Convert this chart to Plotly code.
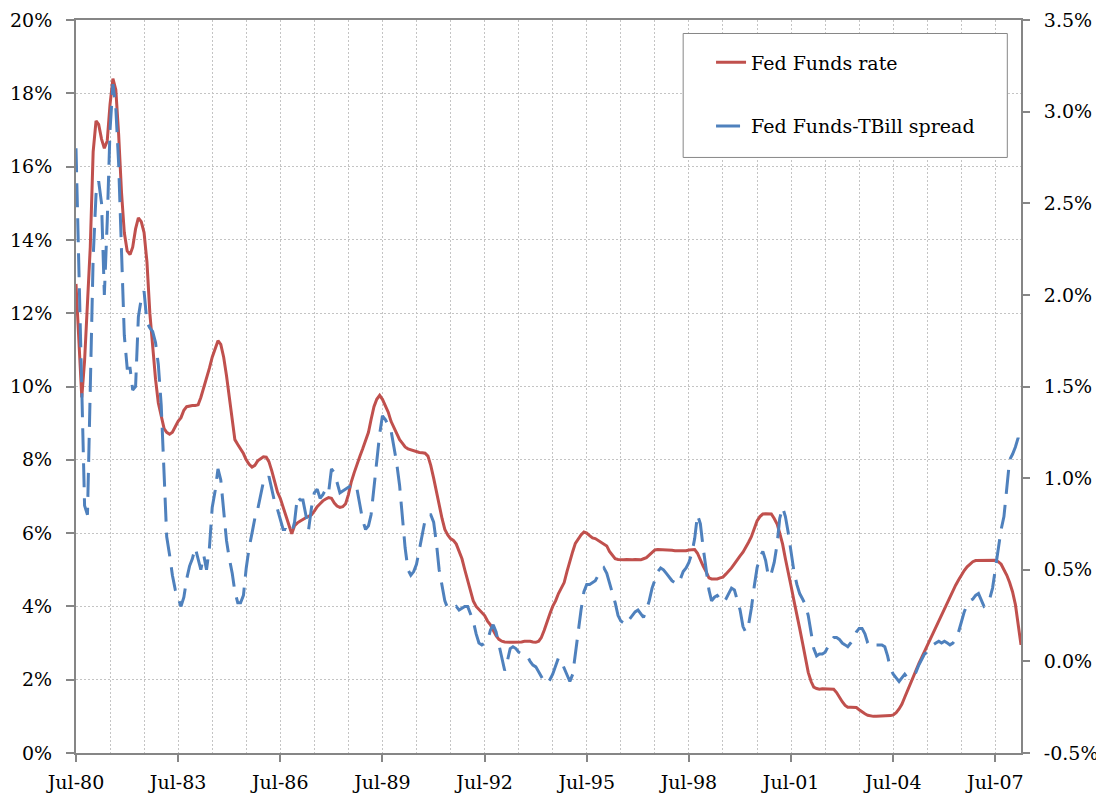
import pandas as pd
import plotly.graph_objects as go

# Monthly data, July 1980 - April 2008 (one row per Jul-Jun year)
fed_funds = [
    12.8, 11.3, 9.7, 10.7, 12.3, 13.8, 16.4, 17.25, 17.15, 16.75, 16.5, 16.7,      # Jul-80
    17.7, 18.4, 18.1, 16.9, 15.3, 14.2, 13.7, 13.6, 13.8, 14.3, 14.6, 14.5,        # Jul-81
    14.2, 13.4, 12.0, 11.1, 10.2, 9.55, 9.2, 8.85, 8.75, 8.7, 8.75, 8.9,           # Jul-82
    9.05, 9.15, 9.35, 9.45, 9.47, 9.48, 9.48, 9.5, 9.7, 9.95, 10.2, 10.5,          # Jul-83
    10.8, 11.0, 11.25, 11.15, 10.8, 10.3, 9.7, 9.0, 8.55, 8.42, 8.3, 8.17,         # Jul-84
    8.0, 7.88, 7.8, 7.85, 7.97, 8.03, 8.08, 8.07, 7.95, 7.7, 7.4, 7.12,            # Jul-85
    6.95, 6.7, 6.45, 6.2, 5.98, 6.2, 6.28, 6.33, 6.38, 6.42, 6.46, 6.5,            # Jul-86
    6.6, 6.72, 6.8, 6.88, 6.93, 6.97, 6.95, 6.82, 6.74, 6.7, 6.72, 6.8,            # Jul-87
    7.05, 7.4, 7.65, 7.9, 8.1, 8.3, 8.5, 8.75, 9.1, 9.45, 9.65, 9.76,              # Jul-88
    9.65, 9.45, 9.3, 9.05, 8.89, 8.7, 8.55, 8.45, 8.35, 8.3, 8.27, 8.24,           # Jul-89
    8.22, 8.2, 8.19, 8.18, 8.1, 7.85, 7.5, 7.1, 6.75, 6.4, 6.1, 5.95,              # Jul-90
    5.85, 5.8, 5.7, 5.5, 5.3, 5.0, 4.7, 4.4, 4.15, 4.0, 3.92, 3.85,                # Jul-91
    3.75, 3.6, 3.5, 3.35, 3.2, 3.1, 3.05, 3.03, 3.02, 3.02, 3.02, 3.02,            # Jul-92
    3.03, 3.03, 3.05, 3.06, 3.05, 3.03, 3.02, 3.05, 3.15, 3.35, 3.6, 3.8,          # Jul-93
    4.0, 4.15, 4.35, 4.5, 4.65, 4.95, 5.25, 5.5, 5.72, 5.85, 5.95, 6.03,           # Jul-94
    6.0, 5.93, 5.87, 5.85, 5.8, 5.76, 5.72, 5.65, 5.5, 5.4, 5.3, 5.28,             # Jul-95
    5.27, 5.27, 5.28, 5.27, 5.27, 5.28, 5.27, 5.27, 5.3, 5.33, 5.4, 5.48,          # Jul-96
    5.54, 5.55, 5.55, 5.55, 5.54, 5.53, 5.53, 5.52, 5.52, 5.51, 5.5, 5.52,         # Jul-97
    5.54, 5.55, 5.55, 5.45, 5.25, 5.1, 4.95, 4.78, 4.75, 4.74, 4.75, 4.78,         # Jul-98
    4.8, 4.88, 4.96, 5.05, 5.16, 5.28, 5.38, 5.48, 5.6, 5.75, 5.9, 6.15,           # Jul-99
    6.33, 6.45, 6.52, 6.53, 6.53, 6.52, 6.4, 6.25, 6.0, 5.7, 5.3, 4.95,            # Jul-00
    4.55, 4.15, 3.8, 3.4, 3.0, 2.6, 2.2, 1.95, 1.8, 1.76, 1.74, 1.75,              # Jul-01
    1.75, 1.75, 1.75, 1.74, 1.65, 1.52, 1.4, 1.3, 1.25, 1.25, 1.25, 1.24,          # Jul-02
    1.18, 1.12, 1.07, 1.03, 1.01, 1.0, 1.0, 1.0, 1.0, 1.0, 1.0, 1.02,              # Jul-03
    1.04, 1.1, 1.2, 1.33, 1.52, 1.71, 1.9, 2.08, 2.26, 2.44, 2.6, 2.77,            # Jul-04
    2.94, 3.1, 3.27, 3.44, 3.61, 3.78, 3.95, 4.12, 4.28, 4.44, 4.58, 4.72,         # Jul-05
    4.86, 4.98, 5.08, 5.16, 5.22, 5.25, 5.25, 5.25, 5.25, 5.25, 5.25, 5.26,        # Jul-06
    5.26, 5.22, 5.15, 5.0, 4.85, 4.65, 4.4, 4.05, 3.55, 2.95,                      # Jul-07
]

tbill_spread = [
    2.80, 2.1, 1.39, 0.85, 0.80, 1.42, 2.2, 2.55, 2.62, 2.5, 2.0, 2.4,             # Jul-80
    2.9, 3.15, 3.02, 2.72, 2.25, 1.78, 1.6, 1.6, 1.48, 1.5, 1.88, 1.98,            # Jul-81
    2.02, 1.85, 1.82, 1.8, 1.74, 1.62, 1.4, 1.06, 0.68, 0.58, 0.47, 0.39,          # Jul-82
    0.35, 0.3, 0.35, 0.45, 0.52, 0.56, 0.62, 0.55, 0.5, 0.58, 0.5, 0.62,           # Jul-83
    0.84, 0.93, 1.05, 0.99, 0.82, 0.66, 0.56, 0.48, 0.38, 0.32, 0.32, 0.36,        # Jul-84
    0.51, 0.62, 0.70, 0.78, 0.83, 0.90, 0.98, 0.98, 1.01, 0.94, 0.87, 0.83,        # Jul-85
    0.77, 0.72, 0.72, 0.71, 0.70, 0.76, 0.90, 0.88, 0.88, 0.80, 0.72, 0.84,        # Jul-86
    0.92, 0.94, 0.89, 0.91, 0.94, 0.92, 1.05, 1.03, 0.97, 0.92, 0.93, 0.94,        # Jul-87
    0.95, 0.96, 0.97, 0.94, 0.86, 0.77, 0.72, 0.74, 0.80, 0.95, 1.11, 1.24,        # Jul-88
    1.34, 1.32, 1.29, 1.26, 1.17, 1.08, 0.96, 0.78, 0.62, 0.50, 0.47, 0.49,        # Jul-89
    0.53, 0.61, 0.70, 0.77, 0.80, 0.80, 0.76, 0.64, 0.50, 0.42, 0.33, 0.29,        # Jul-90
    0.29, 0.29, 0.30, 0.28, 0.29, 0.30, 0.30, 0.26, 0.22, 0.15, 0.10, 0.09,        # Jul-91
    0.10, 0.11, 0.17, 0.20, 0.16, 0.09, 0.02, -0.05, 0.0, 0.07, 0.08, 0.07,        # Jul-92
    0.05, 0.04, 0.04, 0.03, 0.0, -0.02, -0.03, -0.06, -0.08, -0.11, -0.12, -0.10,  # Jul-93
    -0.07, -0.02, 0.02, 0.0, -0.04, -0.07, -0.11, -0.07, 0.05, 0.18, 0.28, 0.38,   # Jul-94
    0.42, 0.42, 0.43, 0.44, 0.47, 0.49, 0.51, 0.48, 0.43, 0.38, 0.32, 0.25,        # Jul-95
    0.22, 0.21, 0.20, 0.23, 0.25, 0.27, 0.28, 0.26, 0.24, 0.28, 0.33, 0.40,        # Jul-96
    0.45, 0.49, 0.51, 0.50, 0.48, 0.46, 0.44, 0.43, 0.42, 0.45, 0.49, 0.51,        # Jul-97
    0.54, 0.59, 0.67, 0.80, 0.75, 0.62, 0.50, 0.39, 0.33, 0.35, 0.36, 0.34,        # Jul-98
    0.32, 0.34, 0.37, 0.40, 0.39, 0.34, 0.28, 0.19, 0.16, 0.20, 0.29, 0.41,        # Jul-99
    0.51, 0.57, 0.60, 0.55, 0.46, 0.48, 0.54, 0.64, 0.78, 0.84, 0.79, 0.70,        # Jul-00
    0.59, 0.49, 0.42, 0.37, 0.34, 0.31, 0.25, 0.16, 0.07, 0.03, 0.04, 0.04,        # Jul-01
    0.05, 0.08, 0.11, 0.13, 0.13, 0.12, 0.10, 0.09, 0.08, 0.10, 0.12, 0.16,        # Jul-02
    0.18, 0.18, 0.15, 0.10, 0.08, 0.09, 0.09, 0.09, 0.09, 0.08, 0.03, -0.04,       # Jul-03
    -0.07, -0.09, -0.11, -0.09, -0.07, -0.09, -0.08, -0.07, -0.06, -0.02, 0.01, 0.04,  # Jul-04
    0.05, 0.07, 0.09, 0.10, 0.11, 0.10, 0.11, 0.10, 0.09, 0.10, 0.12, 0.16,        # Jul-05
    0.22, 0.27, 0.31, 0.33, 0.34, 0.36, 0.37, 0.33, 0.30, 0.31, 0.34, 0.40,        # Jul-06
    0.50, 0.61, 0.72, 0.79, 0.95, 1.10, 1.13, 1.17, 1.22, 1.16,                    # Jul-07
]

series_names = ["Fed Funds rate", "Fed Funds-TBill spread"]
start_month = "1980-07-01"
right_ticks = [-0.5, 0.0, 0.5, 1.0, 1.5, 2.0, 2.5, 3.0, 3.5]
right_tick_text = [f"{v:.1f}%" for v in right_ticks]   # plain hyphen for negatives

dates = pd.date_range(start_month, periods=len(fed_funds), freq="MS")

FONT = "DejaVu Serif"
AXIS_COLOR = "#868686"
GRID_COLOR = "#c4c4c4"

fig = go.Figure()
fig.add_trace(go.Scatter(
    x=dates, y=fed_funds, name=series_names[0], mode="lines",
    line=dict(color="#C0504D", width=3), legendgroup="a", yaxis="y",
))
fig.add_trace(go.Scatter(
    x=dates, y=tbill_spread, name=series_names[1], mode="lines",
    line=dict(color="#4F81BD", width=3, dash="24px,11px"), legendgroup="b", yaxis="y2",
))

# page body adds an 8px margin, so the figure is sized to fit the window
fig.update_layout(
    width=1096, height=788,
    margin=dict(l=68, r=83, t=12, b=43, autoexpand=False),
    paper_bgcolor="white", plot_bgcolor="white",
    font=dict(family=FONT, size=19, color="#000000"),
    showlegend=True,
    legend=dict(
        x=0.672, y=0.968, xanchor="left", yanchor="top",
        bgcolor="rgba(0,0,0,0)", borderwidth=0,
        tracegroupgap=36, font=dict(family=FONT, size=19),
    ),
    xaxis=dict(
        type="date", automargin=False,
        range=[dates[0], dates[-1]],
        tick0=start_month, dtick="M36", tickformat="%b-%y",
        ticks="outside", ticklen=7, tickwidth=2, tickcolor=AXIS_COLOR,
        showline=True, linecolor=AXIS_COLOR, linewidth=2, mirror=True,
        showgrid=True, gridcolor=GRID_COLOR, gridwidth=1, griddash="2px,2px",
        minor=dict(dtick="M12", tick0=start_month, showgrid=True,
                   gridcolor=GRID_COLOR, gridwidth=1, griddash="2px,2px"),
        ticklabelstandoff=4,
        zeroline=False,
    ),
    yaxis=dict(
        automargin=False,
        range=[0, 20], dtick=2, tick0=0, ticksuffix="%", tickformat="d",
        ticks="outside", ticklen=8, tickwidth=2, tickcolor=AXIS_COLOR,
        showline=True, linecolor=AXIS_COLOR, linewidth=2,
        showgrid=True, gridcolor=GRID_COLOR, gridwidth=1, griddash="2px,2px",
        zeroline=False, ticklabelstandoff=10,
    ),
    yaxis2=dict(
        overlaying="y", side="right", automargin=False,
        range=[-0.5, 3.5], tickmode="array",
        tickvals=right_ticks, ticktext=right_tick_text,
        ticks="outside", ticklen=7, tickwidth=2, tickcolor=AXIS_COLOR,
        showline=True, linecolor=AXIS_COLOR, linewidth=2,
        showgrid=False, zeroline=False, ticklabelstandoff=10,
    ),
    shapes=[dict(
        type="rect", xref="paper", yref="paper",
        x0=0.6425, x1=0.9855, y0=0.8125, y1=0.9816,
        line=dict(color="#868686", width=1), fillcolor="white", layer="above",
    )],
)

fig.write_html("out.html", config={"displayModeBar": False})
